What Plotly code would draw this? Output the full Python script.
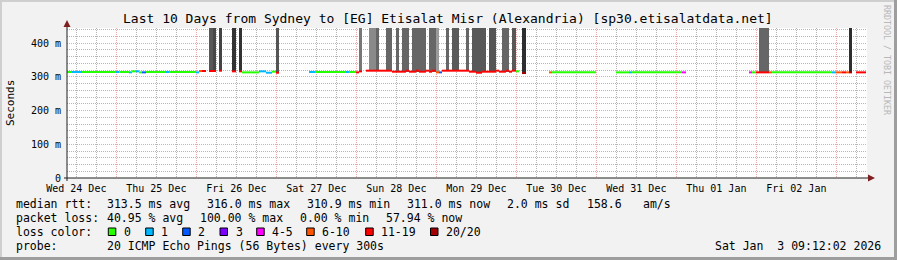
import pandas as pd
import plotly.graph_objects as go

# ---------------- data ----------------
T_START = "2025-12-24 09:12:02"
T_END = "2026-01-03 09:12:02"

loss_labels = ["0", "1", "2", "3", "4-5", "6-10", "11-19", "20/20"]
loss_colors = ["#26ff00", "#00b8ff", "#0059ff", "#7e00ff", "#ff00ff", "#ff5500", "#ff0000", "#a10000"]

# median rtt segments: start, end, median rtt (ms), loss class index
seg_start = [
    "2025-12-24 09:12", "2025-12-24 10:42", "2025-12-24 13:42", "2025-12-24 23:54", "2025-12-25 00:54",
    "2025-12-25 03:48", "2025-12-25 04:42", "2025-12-25 05:54", "2025-12-25 06:48", "2025-12-25 07:42",
    "2025-12-25 08:54", "2025-12-25 14:54", "2025-12-25 15:48", "2025-12-25 23:54", "2025-12-26 00:48",
    "2025-12-26 01:42", "2025-12-26 03:48", "2025-12-26 06:48", "2025-12-26 10:42", "2025-12-26 12:48",
    "2025-12-26 13:42", "2025-12-26 18:48", "2025-12-26 20:54", "2025-12-26 22:42", "2025-12-26 23:54",
    "2025-12-27 09:48", "2025-12-27 11:36", "2025-12-27 20:54", "2025-12-27 21:48", "2025-12-27 23:54",
    "2025-12-28 00:48", "2025-12-28 02:54", "2025-12-28 10:42", "2025-12-28 14:54", "2025-12-28 15:48",
    "2025-12-28 17:54", "2025-12-28 18:48", "2025-12-28 20:54", "2025-12-28 21:48", "2025-12-28 22:42",
    "2025-12-28 23:54", "2025-12-29 00:48", "2025-12-29 01:42", "2025-12-29 09:48", "2025-12-29 11:54",
    "2025-12-29 13:42", "2025-12-29 17:54", "2025-12-29 18:48", "2025-12-29 20:54", "2025-12-29 21:48",
    "2025-12-29 22:42", "2025-12-29 23:54", "2025-12-30 01:42", "2025-12-30 09:48", "2025-12-30 10:42",
    "2025-12-31 05:54", "2025-12-31 09:48", "2025-12-31 10:42", "2026-01-01 01:42", "2026-01-01 21:48",
    "2026-01-01 22:42", "2026-01-01 23:54", "2026-01-02 03:48", "2026-01-02 04:42", "2026-01-02 22:42",
    "2026-01-02 23:54", "2026-01-03 01:42", "2026-01-03 02:54", "2026-01-03 03:48", "2026-01-03 05:54",
]
seg_end = [
    "2025-12-24 10:42", "2025-12-24 13:42", "2025-12-24 23:54", "2025-12-25 00:54", "2025-12-25 03:48",
    "2025-12-25 04:42", "2025-12-25 05:54", "2025-12-25 06:48", "2025-12-25 07:42", "2025-12-25 08:54",
    "2025-12-25 14:54", "2025-12-25 15:48", "2025-12-25 23:54", "2025-12-26 00:48", "2025-12-26 01:42",
    "2025-12-26 02:54", "2025-12-26 05:54", "2025-12-26 07:42", "2025-12-26 11:54", "2025-12-26 13:42",
    "2025-12-26 18:48", "2025-12-26 20:54", "2025-12-26 22:42", "2025-12-26 23:54", "2025-12-27 00:48",
    "2025-12-27 11:36", "2025-12-27 20:54", "2025-12-27 21:48", "2025-12-27 23:54", "2025-12-28 00:48",
    "2025-12-28 01:42", "2025-12-28 10:42", "2025-12-28 14:54", "2025-12-28 15:48", "2025-12-28 17:54",
    "2025-12-28 18:48", "2025-12-28 20:54", "2025-12-28 21:48", "2025-12-28 22:42", "2025-12-28 23:54",
    "2025-12-29 00:48", "2025-12-29 01:42", "2025-12-29 09:48", "2025-12-29 11:54", "2025-12-29 13:42",
    "2025-12-29 17:54", "2025-12-29 18:48", "2025-12-29 20:54", "2025-12-29 21:48", "2025-12-29 22:42",
    "2025-12-29 23:54", "2025-12-30 00:48", "2025-12-30 02:54", "2025-12-30 10:42", "2025-12-30 23:54",
    "2025-12-31 09:48", "2025-12-31 10:42", "2026-01-01 01:42", "2026-01-01 02:54", "2026-01-01 22:42",
    "2026-01-01 23:54", "2026-01-02 03:48", "2026-01-02 04:42", "2026-01-02 22:42", "2026-01-02 23:54",
    "2026-01-03 01:42", "2026-01-03 02:54", "2026-01-03 03:48", "2026-01-03 04:42", "2026-01-03 08:54",
]
seg_rtt = [
    314, 314, 314, 314, 314, 313, 316, 316, 313, 313,
    314, 314, 314, 313, 317, 317, 317, 318, 316, 316,
    313, 316, 312, 315, 312, 314, 314, 314, 314, 313,
    316, 318, 315, 318, 315, 318, 315, 318, 315, 318,
    313, 313, 318, 315, 312, 315, 318, 315, 318, 315,
    318, 316, 311, 313, 313, 313, 313, 313, 313, 313,
    313, 313, 313, 313, 313, 313, 313, 313, 313, 313,
]
seg_loss = [
    0, 1, 0, 1, 0, 1, 0, 1, 0, 2,
    0, 1, 0, 1, 5, 6, 6, 6, 6, 6,
    0, 1, 1, 0, 6, 1, 0, 1, 0, 6,
    6, 6, 6, 6, 6, 6, 6, 6, 6, 6,
    5, 2, 6, 6, 6, 6, 6, 6, 6, 6,
    6, 0, 7, 5, 0, 0, 1, 0, 4, 4,
    0, 6, 5, 0, 1, 5, 6, 5, 7, 6,
]

# smoke (spread of ping times): start, end, low / high rtt (ms), shade
smoke_start = [
    "2025-12-26 03:48", "2025-12-26 05:00", "2025-12-26 06:48", "2025-12-26 10:42", "2025-12-26 12:48",
    "2025-12-26 23:54", "2025-12-28 00:48", "2025-12-28 03:48", "2025-12-28 05:54", "2025-12-28 08:54",
    "2025-12-28 11:54", "2025-12-28 13:42", "2025-12-28 16:42", "2025-12-28 21:48", "2025-12-28 23:54",
    "2025-12-29 02:54", "2025-12-29 04:42", "2025-12-29 08:54", "2025-12-29 10:42", "2025-12-29 15:48",
    "2025-12-29 19:42", "2025-12-29 22:42", "2025-12-30 01:42", "2026-01-02 00:48", "2026-01-03 03:48",
]
smoke_end = [
    "2025-12-26 05:00", "2025-12-26 05:54", "2025-12-26 07:42", "2025-12-26 11:54", "2025-12-26 13:42",
    "2025-12-27 00:48", "2025-12-28 01:42", "2025-12-28 05:54", "2025-12-28 06:48", "2025-12-28 10:42",
    "2025-12-28 12:48", "2025-12-28 15:48", "2025-12-28 20:54", "2025-12-28 23:54", "2025-12-29 00:48",
    "2025-12-29 03:48", "2025-12-29 06:48", "2025-12-29 09:48", "2025-12-29 14:54", "2025-12-29 17:54",
    "2025-12-29 21:48", "2025-12-29 23:54", "2025-12-30 02:54", "2026-01-02 03:48", "2026-01-03 04:42",
]
smoke_lo = [317, 317, 318, 316, 316, 312, 316, 318, 318, 318,
            318, 315, 315, 315, 313, 318, 318, 318, 315, 315,
            315, 318, 311, 313, 313]
smoke_hi = [480] * 25
smoke_shade = ["#575757", "#474747", "#444444", "#333333", "#333333",
               "#555555", "#777777", "#8a8a8a", "#666666", "#666666",
               "#666666", "#666666", "#666666", "#666666", "#9a9a9a",
               "#666666", "#5a5a5a", "#666666", "#585858", "#555555",
               "#666666", "#585858", "#2e2e2e", "#666666", "#2e2e2e"]

day_label_pos = ["2025-12-24 12:00", "2025-12-25 12:00", "2025-12-26 12:00", "2025-12-27 12:00",
                 "2025-12-28 12:00", "2025-12-29 12:00", "2025-12-30 12:00", "2025-12-31 12:00",
                 "2026-01-01 12:00", "2026-01-02 12:00"]
day_labels = ["Wed 24 Dec", "Thu 25 Dec", "Fri 26 Dec", "Sat 27 Dec", "Sun 28 Dec",
              "Mon 29 Dec", "Tue 30 Dec", "Wed 31 Dec", "Thu 01 Jan", "Fri 02 Jan"]
y_tickvals = [0, 100, 200, 300, 400]
y_ticktext = ["0", "100 m", "200 m", "300 m", "400 m"]

title_text = "Last 10 Days from Sydney to [EG] Etisalat Misr (Alexandria) [sp30.etisalatdata.net]"
stat_rows = [
    [("median rtt:", 16), ("313.5 ms avg", 107.3), ("316.0 ms max", 207.3), ("310.9 ms min", 307.3),
     ("311.0 ms now", 406.7), ("2.0 ms sd", 506.7), ("158.6", 586.7), ("am/s", 642.7)],
    [("packet loss:", 16), ("40.95 % avg", 107.3), ("100.00 % max", 200), ("0.00 % min", 300),
     ("57.94 % now", 386)],
    [("loss color:", 16)],
    [("probe:", 16), ("20 ICMP Echo Pings (56 Bytes) every 300s", 107.3)],
]
stamp_text = "Sat Jan\u00a0\u00a03 09:12:02 2026"
legend_square_x = [108.3, 145.7, 182.7, 220.0, 256.7, 306.7, 365.7, 430.5]

# ---------------- geometry helpers ----------------
W, H = 897, 260
PL, PR, PT, PB = 67, 867, 28, 178
Y_MAX = (PB - PT) / ((PB - 43) / 400.0)  # 400 at pixel row 43
MONO = "DejaVu Sans Mono"


def px(x):
    return (x - PL) / (PR - PL)


def py(y):
    return (PB - y) / (PB - PT)


# grid positions
hours6 = pd.date_range("2025-12-24 12:00", "2026-01-03 06:00", freq="6h")
x_minor = [t for t in hours6 if t.hour != 0]
x_major = [t for t in hours6 if t.hour == 0]
y_minor = [v for v in range(20, 441, 20) if v % 100 != 0]

fig = go.Figure()

# smoke bars
s0 = pd.to_datetime(pd.Series(smoke_start))
s1 = pd.to_datetime(pd.Series(smoke_end))
mid = s0 + (s1 - s0) / 2
widths = ((s1 - s0).dt.total_seconds() * 1000).tolist()
fig.add_trace(go.Bar(
    x=mid, y=[h - l for h, l in zip(smoke_hi, smoke_lo)], base=smoke_lo, width=widths,
    marker=dict(color=smoke_shade, line=dict(width=0)), hoverinfo="skip", showlegend=False,
))

# median lines by loss class
for k, col in enumerate(loss_colors):
    xs, ys = [], []
    for a, b, v, c in zip(seg_start, seg_end, seg_rtt, seg_loss):
        if c == k:
            xs += [a, b, None]
            ys += [v, v, None]
    if xs:
        fig.add_trace(go.Scatter(x=xs, y=ys, mode="lines", line=dict(color=col, width=2),
                                 hoverinfo="skip", showlegend=False, connectgaps=False))

# invisible helper traces so that the overlay axes are drawn
for xa, ya in [("x2", "y"), ("x3", "y"), ("x", "y2")]:
    fig.add_trace(go.Scatter(x=[T_START, T_END], y=[0, 0], xaxis=xa, yaxis=ya, mode="markers",
                             marker=dict(opacity=0), hoverinfo="skip", showlegend=False))

GRID = "rgba(143,143,143,0.65)"
MGRID = "rgba(222,79,79,0.5)"
DASH = "1px,1px"
common = dict(zeroline=False, showline=False, ticks="", fixedrange=True)
fig.update_layout(
    width=W, height=H,
    margin=dict(l=PL, r=W - PR, t=PT, b=H - PB, pad=0),
    paper_bgcolor="#f2f2f2", plot_bgcolor="#ffffff",
    barmode="overlay", bargap=0,
    xaxis=dict(type="date", range=[T_START, T_END], tickmode="array", tickvals=x_minor,
               showticklabels=False, showgrid=True, gridcolor=GRID, griddash=DASH, gridwidth=1,
               **common),
    xaxis2=dict(type="date", range=[T_START, T_END], overlaying="x", anchor="y", side="bottom",
                tickmode="array", tickvals=x_major, showticklabels=False, showgrid=True,
                gridcolor=MGRID, griddash=DASH, gridwidth=1, **common),
    xaxis3=dict(type="date", range=[T_START, T_END], overlaying="x", anchor="y", side="bottom",
                tickmode="array", tickvals=day_label_pos, ticktext=day_labels, showgrid=False,
                ticklabelstandoff=3, tickfont=dict(family=MONO, size=10, color="#000000"), **common),
    yaxis=dict(range=[0, Y_MAX], tickmode="array", tickvals=y_minor, showticklabels=False,
               showgrid=True, gridcolor=GRID, griddash=DASH, gridwidth=1, **common),
    yaxis2=dict(range=[0, Y_MAX], overlaying="y", anchor="x", side="left", tickmode="array",
                tickvals=y_tickvals, ticktext=y_ticktext, showgrid=True, gridcolor=MGRID,
                griddash=DASH, gridwidth=1, ticklabelstandoff=5,
                tickfont=dict(family=MONO, size=10, color="#000000"), **common),
    font=dict(family=MONO, color="#000000"),
)

shapes = []
# 3D frame
shapes.append(dict(type="rect", xref="paper", yref="paper", x0=px(0), x1=px(W), y0=py(0), y1=py(2),
                   fillcolor="#cfcfcf", line=dict(width=0), layer="below"))
shapes.append(dict(type="rect", xref="paper", yref="paper", x0=px(0), x1=px(2), y0=py(0), y1=py(H),
                   fillcolor="#cfcfcf", line=dict(width=0), layer="below"))
shapes.append(dict(type="rect", xref="paper", yref="paper", x0=px(0), x1=px(W), y0=py(H - 3), y1=py(H),
                   fillcolor="#9e9e9e", line=dict(width=0), layer="below"))
shapes.append(dict(type="rect", xref="paper", yref="paper", x0=px(W - 3), x1=px(W), y0=py(0), y1=py(H),
                   fillcolor="#9e9e9e", line=dict(width=0), layer="below"))
# axes
AX = "#1f1f1f"
AR = "#801f1f"
shapes.append(dict(type="line", xref="paper", yref="paper", x0=px(64), x1=px(869), y0=0, y1=0,
                   line=dict(color=AX, width=1)))
shapes.append(dict(type="line", xref="paper", yref="paper", x0=0, x1=0, y0=py(181), y1=py(26),
                   line=dict(color=AX, width=1)))
shapes.append(dict(type="path", xref="paper", yref="paper",
                   path=f"M {px(67)},{py(20)} L {px(63.5)},{py(27)} L {px(70.5)},{py(27)} Z",
                   fillcolor=AR, line=dict(color=AR, width=0)))
shapes.append(dict(type="path", xref="paper", yref="paper",
                   path=f"M {px(875)},{py(178)} L {px(868)},{py(174.5)} L {px(868)},{py(181.5)} Z",
                   fillcolor=AR, line=dict(color=AR, width=0)))
# legend squares
for sx, col in zip(legend_square_x, loss_colors):
    shapes.append(dict(type="rect", xref="paper", yref="paper", x0=px(sx), x1=px(sx + 7.5),
                       y0=py(235.5), y1=py(228), fillcolor=col, line=dict(color="#000000", width=1)))
fig.update_layout(shapes=shapes)

ann = []


def text(t, x, y, size=11.5, anchor="left", color="#000000", angle=0):
    ann.append(dict(text=t, x=px(x), y=py(y), xref="paper", yref="paper", xanchor=anchor,
                    yanchor="middle", showarrow=False, borderpad=0, borderwidth=0, textangle=angle,
                    font=dict(family=MONO, size=size, color=color)))


text(title_text, 447.5, 19, size=13, anchor="center")
text("Seconds", 10, 103, size=11, anchor="center", angle=-90)
text("RRDTOOL / TOBI OETIKER", 887, 60, size=8.3, anchor="center", color="#b8b8b8", angle=90)
row_y = [204, 218, 232, 246]
for row, yy in zip(stat_rows, row_y):
    for t, xx in row:
        text(t, xx, yy)
for sx, lab in zip(legend_square_x, loss_labels):
    text(lab, sx + 15.7, 232)
text(stamp_text, 880.5, 246, anchor="right")
fig.update_layout(annotations=ann)

fig.write_html("out.html")
